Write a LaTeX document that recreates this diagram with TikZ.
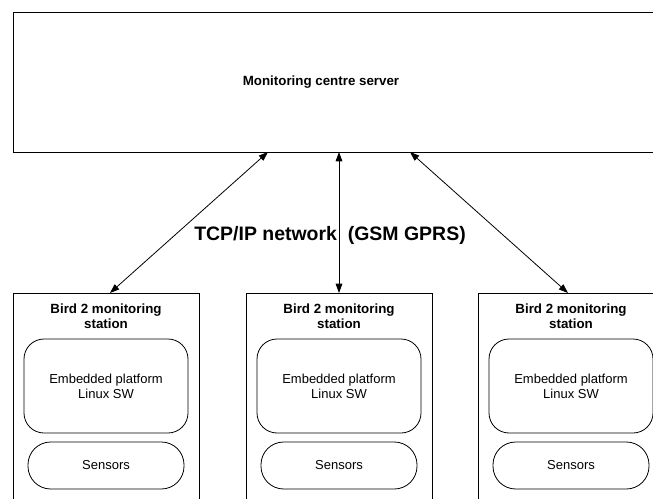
\documentclass[tikz,border=0pt]{standalone}
\usepackage{fontspec}
\setmainfont{Liberation Sans}
\usetikzlibrary{arrows.meta}
\tikzset{server/.style={draw, line width=.9pt, minimum width=525pt,
   minimum height=105pt, anchor=north west, inner sep=0pt},
 servername/.style={font=\bfseries\fontsize{10}{12}\selectfont},
 station/.style={draw, line width=.7pt, minimum width=139.5pt,
   minimum height=172pt, anchor=north},
 stationtitle/.style={font=\bfseries\fontsize{10}{11.25}\selectfont, align=center},
 platform/.style={draw, line width=.6pt, rounded corners=15pt, minimum width=123pt,
   minimum height=70.5pt, align=center, font=\fontsize{9.75}{11.25}\selectfont},
 sensors/.style={draw, line width=.6pt, rounded corners=17pt, minimum width=117pt,
   minimum height=35.25pt, font=\fontsize{9.75}{11.25}\selectfont},
 link/.style={line width=.6pt,
   {Triangle[length=7pt,width=5pt]}-{Triangle[length=7pt,width=5pt]}},
 netname/.style={font=\bfseries\fontsize{14.6}{17}\selectfont},
 }

\begin{document}
\begin{tikzpicture}[x=0.75pt,y=-0.75pt]
    \clip (0,0) rectangle (653,499);
    % server on top
    \node[server] (server) at (13,12) {};
    \node[servername] (servertext) at (321,82) {Monitoring centre server};
    % the three stations
    \foreach \i/\x in {1/106, 2/339, 3/571}{
        \node[station] (st\i) at (\x,293) {};
        \node[stationtitle] (title\i) at (\x,316) {Bird 2 monitoring\\station};
        \node[platform] (emb\i) at (\x,386) {Embedded platform\\Linux SW};
        \node[sensors] (sens\i) at (\x,465.5) {Sensors};
    }
    \coordinate (out1) at (268,152);
    \coordinate (out2) at (339,152);
    \coordinate (out3) at (410,152);
    \draw[link] (out1) -- ([xshift=3pt]st1.north);
    \draw[link] (out2) -- (st2.north);
    \draw[link] (out3) -- ([xshift=-2.25pt]st3.north);
    \node[netname] (net) at (330,235) {TCP/IP network\ \ (GSM GPRS)};
\end{tikzpicture}
\end{document}
